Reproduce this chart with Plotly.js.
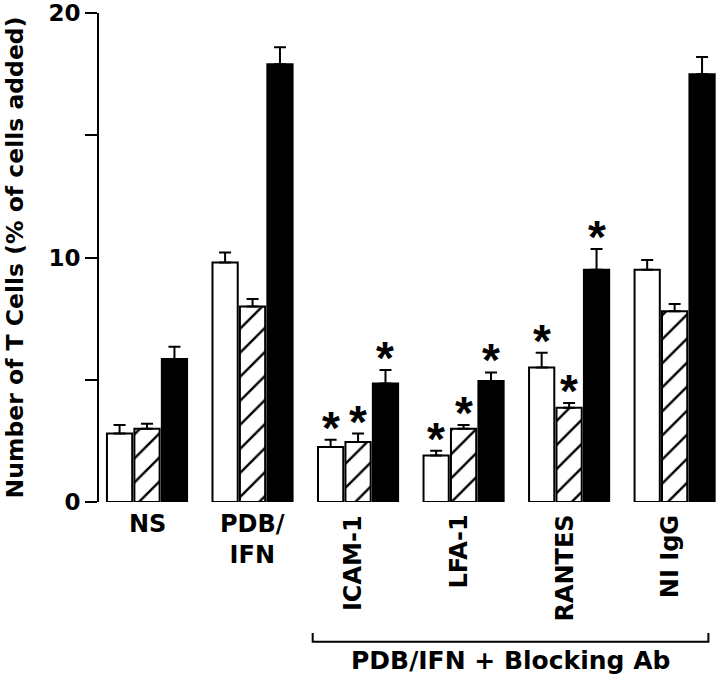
<!DOCTYPE html>
<html>
<head>
<meta charset="utf-8">
<script src="https://cdn.plot.ly/plotly-3.0.1.min.js"></script>
<style>html,body{margin:0;padding:0;background:#fff;}#chart{width:720px;height:684px;}</style>
</head>
<body>
<div id="chart"></div>
<script>
// ---- data ----
const categories = ["NS", "PDB/IFN", "ICAM-1", "LFA-1", "RANTES", "NI IgG"];
const categoryLabels = ["NS", "PDB/<br>IFN", "ICAM-1", "LFA-1", "RANTES", "NI IgG"];
const rotatedLabel = [false, false, true, true, true, true];
const seriesNames = ["open", "hatched", "solid"];
const openValues    = [2.8, 9.8, 2.25, 1.9, 5.5, 9.5];
const openErrors    = [0.35, 0.4, 0.3, 0.2, 0.6, 0.4];
const hatchedValues = [3.0, 8.0, 2.45, 3.0, 3.85, 7.8];
const hatchedErrors = [0.2, 0.3, 0.35, 0.15, 0.2, 0.3];
const solidValues   = [5.85, 17.9, 4.85, 4.95, 9.5, 17.5];
const solidErrors   = [0.5, 0.7, 0.55, 0.35, 0.85, 0.7];
const significant   = [0, 0, 1, 1, 1, 0]; // * above all three bars of group
const yTickVals = [0, 5, 10, 15, 20];
const yTickText = ["0", "", "10", "", "20"];
const yTitle = "Number of T Cells (% of cells added)";
const bracketLabel = "PDB/IFN + Blocking Ab";

// ---- styles ----
const FONT = "DejaVu Sans";
const bargap = 0.22, bargroupgap = 0.08;
const xIdx = categories.map((c, i) => i);
const values = [openValues, hatchedValues, solidValues];
const errors = [openErrors, hatchedErrors, solidErrors];
const markers = [
  {color: "white", line: {color: "black", width: 2}},
  {color: "white", line: {color: "black", width: 2},
   pattern: {shape: "/", fgcolor: "black", bgcolor: "white", size: 17, solidity: 0.14}},
  {color: "black", line: {color: "black", width: 2}}
];

const traces = values.map((v, j) => ({
  type: "bar",
  name: seriesNames[j],
  x: xIdx,
  y: v,
  marker: markers[j],
  error_y: {type: "data", array: errors[j], arrayminus: v.map(() => 0), symmetric: false,
            visible: true, color: "black", thickness: 2, width: 6},
  hoverinfo: "y",
  showlegend: false
}));

const annotations = [];
// category labels
categories.forEach((c, i) => {
  if (rotatedLabel[i]) {
    annotations.push({x: i, y: 0, xref: "x", yref: "paper", text: categoryLabels[i],
      textangle: -90, showarrow: false, xanchor: "center", yanchor: "top", yshift: -11, xshift: -5,
      font: {family: FONT, size: 24, weight: "bold", color: "black"}});
  } else {
    annotations.push({x: i, y: 0, xref: "x", yref: "paper", text: categoryLabels[i],
      showarrow: false, xanchor: "center", yanchor: "top", yshift: -6,
      font: {family: FONT, size: 24, weight: "bold", color: "black"}});
  }
});
// significance stars
const slot = (1 - bargap) / 3;
categories.forEach((c, i) => {
  if (!significant[i]) return;
  values.forEach((v, j) => {
    annotations.push({x: i + (j - 1) * slot, y: v[i] + errors[j][i], xref: "x", yref: "y",
      text: "*", showarrow: false, xanchor: "center", yanchor: "bottom", yshift: -16,
      font: {family: "Liberation Sans", size: 46, weight: "bold", color: "black"}});
  });
});
// bracket label
annotations.push({x: 3.44, y: -0.29, xref: "x", yref: "paper", text: bracketLabel,
  showarrow: false, xanchor: "center", yanchor: "top",
  font: {family: FONT, size: 25, weight: "bold", color: "black"}});

const layout = {
  width: 720, height: 684,
  margin: {l: 99, r: 0, t: 13, b: 182, pad: 0},
  paper_bgcolor: "white", plot_bgcolor: "white",
  barmode: "group", bargap: bargap, bargroupgap: bargroupgap,
  showlegend: false,
  font: {family: FONT, color: "black"},
  xaxis: {range: [-0.455, 5.43], showgrid: false, zeroline: false, showline: false,
          showticklabels: false, ticks: ""},
  yaxis: {range: [0, 20], showgrid: false, zeroline: false, showline: true,
          linecolor: "black", linewidth: 2, ticks: "outside", ticklen: 12, tickwidth: 2,
          tickcolor: "black", tickvals: yTickVals, ticktext: yTickText,
          tickfont: {family: FONT, size: 23, weight: "bold", color: "black"},
          title: {text: yTitle, standoff: 18, font: {family: FONT, size: 23.5, weight: "bold", color: "black"}}},
  shapes: [{type: "path", xref: "x", yref: "paper",
            path: "M 1.57,-0.268 L 1.57,-0.286 L 5.32,-0.286 L 5.32,-0.268",
            line: {color: "black", width: 2}}],
  annotations: annotations
};

Plotly.newPlot("chart", traces, layout, {staticPlot: true, displayModeBar: false});
</script>
</body>
</html>
